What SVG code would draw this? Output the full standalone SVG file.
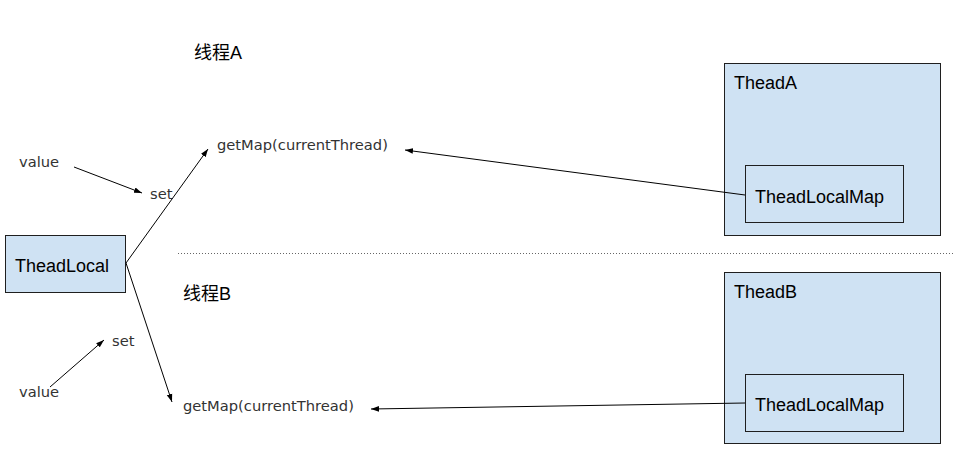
<svg xmlns="http://www.w3.org/2000/svg" width="955" height="474" viewBox="0 0 955 474">
<style>
.box{fill:#cfe2f3;stroke:#1f1f1f;stroke-width:1}
.big{font-family:"Liberation Sans",Arial,"Noto Sans CJK SC",sans-serif;font-size:18px;fill:#000}
.cjk{font-family:"Liberation Sans","Noto Sans CJK SC",sans-serif;font-size:18px;fill:#000}
.small{font-family:"DejaVu Sans",Verdana,sans-serif;font-size:14.7px;fill:#333}
.conn{stroke:#000;stroke-width:1;fill:none;marker-end:url(#ah)}
</style>
<defs>
<marker id="ah" viewBox="0 0 10 10" refX="10" refY="5" markerWidth="8" markerHeight="8" markerUnits="userSpaceOnUse" orient="auto">
<path d="M0,1.5 L10,5 L0,8.5 Z" fill="#000"/>
</marker>
</defs>
<rect width="955" height="474" fill="#fff"/>
<g id="divider">
<line x1="178" y1="253.5" x2="955" y2="253.5" stroke="#666" stroke-width="1" stroke-dasharray="1,2"/>
</g>
<g id="labelA"><text class="cjk" x="194" y="59">线程A</text></g>
<g id="labelB"><text class="cjk" x="183" y="300">线程B</text></g>
<g id="threadlocal">
<rect class="box" x="5.5" y="235.5" width="120" height="57"/>
<text class="big" x="15" y="272">TheadLocal</text>
</g>
<g id="threadA">
<rect class="box" x="724.5" y="63.5" width="216" height="172"/>
<text class="big" x="734" y="89">TheadA</text>
</g>
<g id="mapA">
<rect class="box" x="745.5" y="165.5" width="158" height="57"/>
<text class="big" x="755" y="203">TheadLocalMap</text>
</g>
<g id="threadB">
<rect class="box" x="724.5" y="272.5" width="216" height="171"/>
<text class="big" x="734" y="298">TheadB</text>
</g>
<g id="mapB">
<rect class="box" x="745.5" y="374.5" width="158" height="57"/>
<text class="big" x="755" y="411">TheadLocalMap</text>
</g>
<g id="valueA"><text class="small" x="19" y="167">value</text></g>
<g id="setA"><text class="small" x="150" y="199">set</text></g>
<g id="getMapA"><text class="small" x="217" y="150">getMap(currentThread)</text></g>
<g id="setB"><text class="small" x="112" y="346">set</text></g>
<g id="valueB"><text class="small" x="19" y="397">value</text></g>
<g id="getMapB"><text class="small" x="183" y="411">getMap(currentThread)</text></g>
<g id="connectors">
<line class="conn" x1="74" y1="167" x2="142" y2="193"/>
<line class="conn" x1="126" y1="263" x2="208" y2="149"/>
<line class="conn" x1="126" y1="263" x2="172" y2="402"/>
<line class="conn" x1="50" y1="387" x2="104" y2="340"/>
<line class="conn" x1="745" y1="195" x2="405" y2="150"/>
<line class="conn" x1="745" y1="403" x2="371" y2="409"/>
</g>
</svg>
